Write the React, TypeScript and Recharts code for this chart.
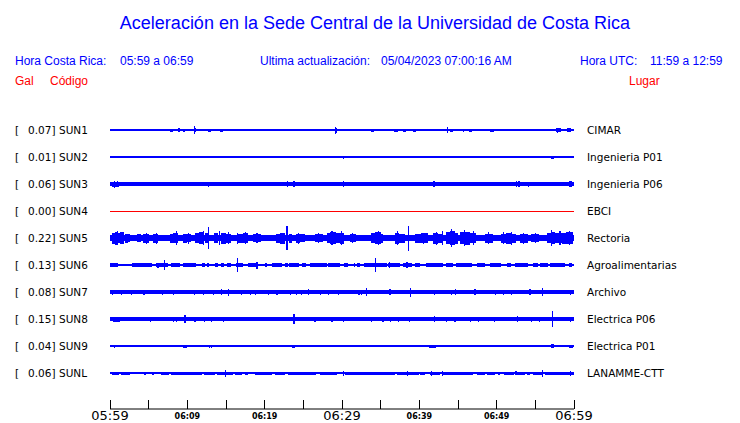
import React from 'react';
import { ComposedChart, XAxis, YAxis, Area, Scatter, ErrorBar } from 'recharts';

const TITLE = 'Aceleración en la Sede Central de la Universidad de Costa Rica';
const CR_TIME = '05:59 a 06:59';
const UPDATED = '05/04/2023 07:00:16 AM';
const UTC_TIME = '11:59 a 12:59';

const CODES = ['SUN1', 'SUN2', 'SUN3', 'SUN4', 'SUN5', 'SUN6', 'SUN7', 'SUN8', 'SUN9', 'SUNL'];
const GAL = ['0.07', '0.01', '0.06', '0.00', '0.22', '0.13', '0.08', '0.15', '0.04', '0.06'];
const PLACES = ['CIMAR', 'Ingenieria P01', 'Ingenieria P06', 'EBCI', 'Rectoria', 'Agroalimentarias', 'Archivo', 'Electrica P06', 'Electrica P01', 'LANAMME-CTT'];
const TRACE_COLORS = ['#0000ff', '#0000ff', '#0000ff', '#ff0000', '#0000ff', '#0000ff', '#0000ff', '#0000ff', '#0000ff', '#0000ff'];

// minutes after 05:59
const TICK_VALUES = [0, 5, 10, 15, 20, 25, 30, 35, 40, 45, 50, 55, 60];
const TICK_LABELS = ['05:59', '', '06:09', '', '06:19', '', '06:29', '', '06:39', '', '06:49', '', '06:59'];
const BIG_TICKS = [0, 30, 60];

// background amplitude of each trace
const BASE_AMP = [0.6, 0.6, 1.7, 0.5, 3.3, 0.6, 1.7, 1.8, 0.6, 0.6];

// [start minute, end minute, amplitude]
const SUN1_SEGS = [[7.8, 8.2, 1.5], [8.8, 9.0, 1.7], [9.4, 9.7, 1.5], [12.7, 13.1, 1.5], [14.2, 14.6, 1.5], [33.7, 34.1, 1.5], [34.5, 34.9, 1.3], [36.7, 37.2, 1.5], [37.9, 38.3, 1.5], [39.2, 39.6, 1.5], [44.0, 44.4, 1.5], [46.4, 46.8, 1.5], [49.1, 49.6, 1.5], [56.3, 56.7, 1.3], [57.7, 58.3, 2], [59.1, 59.6, 2]];
const SUN2_SEGS = [[57.0, 57.4, 1.5]];
const SUN3_SEGS = [[0.3, 1.2, 2.5], [1.6, 2.0, 2.2], [59.4, 59.8, 3]];
const SUN4_SEGS = [];
const SUN5_SEGS = [[0.3, 0.6, 5.5], [0.6, 0.9, 6.5], [0.9, 1.3, 5], [1.3, 1.8, 6], [2.0, 2.3, 4.5], [2.3, 2.6, 4], [3.5, 4.0, 4], [4.3, 5.0, 4.5], [5.6, 6.2, 4.5], [7.8, 8.2, 4.5], [8.2, 8.8, 5], [9.5, 10.0, 4.5], [10.0, 10.5, 4], [11.0, 11.5, 5], [11.5, 12.0, 6], [12.3, 12.8, 5], [13.5, 14.0, 5], [14.4, 15.0, 5.5], [15.0, 15.7, 4.5], [16.6, 17.2, 4.5], [17.2, 17.8, 5], [18.5, 19.5, 4], [21.5, 22.0, 4.5], [22.0, 22.6, 5.5], [23.1, 23.5, 4.5], [24.0, 24.6, 4.5], [24.6, 25.2, 4], [26.5, 27.5, 4], [28.0, 28.5, 5], [28.5, 29.2, 6], [29.2, 29.7, 5], [29.7, 30.2, 5.5], [31.0, 31.8, 4], [33.8, 34.3, 5], [34.3, 35.0, 6], [35.0, 35.3, 4.5], [36.8, 37.4, 5.5], [37.4, 38.2, 4.5], [39.5, 40.2, 4.5], [40.2, 40.8, 5], [41.8, 42.4, 5.5], [42.4, 43.0, 4.5], [43.5, 44.0, 6], [44.0, 44.6, 7], [44.6, 45.0, 5.5], [45.2, 45.8, 6], [45.8, 46.5, 6.5], [46.5, 47.3, 5], [48.5, 49.5, 4.5], [50.5, 51.2, 4.5], [51.2, 51.8, 5.5], [52.0, 52.5, 4.5], [53.0, 54.0, 4.5], [54.5, 55.5, 4], [56.5, 57.0, 5], [57.0, 57.6, 6], [57.6, 58.4, 5], [58.4, 59.0, 5.5], [59.0, 59.9, 6]];
const SUN6_SEGS = [[0, 1.0, 1.6], [1.9, 2.0, 1.4], [2.9, 5.4, 1.6], [6.0, 7.5, 1.6], [7.9, 9.1, 1.6], [9.5, 11.1, 1.6], [11.9, 12.3, 1.6], [12.5, 12.8, 1.6], [13.6, 14.0, 1.6], [14.4, 14.7, 1.6], [15.1, 15.7, 1.6], [16.3, 17.2, 1.6], [17.9, 19.2, 1.6], [20.0, 20.3, 1.6], [20.9, 22.2, 1.6], [22.6, 23.0, 1.6], [23.1, 24.4, 1.6], [24.8, 25.4, 1.6], [25.9, 28.0, 1.6], [28.2, 29.7, 1.6], [30.2, 30.8, 1.6], [31.5, 31.7, 1.6], [32.0, 32.3, 1.6], [32.8, 35.8, 1.6], [36.0, 37.5, 1.6], [37.9, 39.0, 1.6], [39.4, 40.1, 1.6], [40.9, 43.1, 1.6], [43.5, 44.4, 1.6], [44.8, 46.8, 1.6], [47.4, 48.5, 1.6], [49.1, 50.6, 1.6], [51.3, 51.9, 1.6], [52.4, 54.1, 1.6], [54.7, 55.4, 1.6], [55.6, 56.7, 1.6], [56.9, 58.8, 1.6], [59.3, 59.7, 1.6]];
const SUN7_SEGS = [];
const SUN8_SEGS = [[0.4, 1.3, 2.5]];
const SUN9_SEGS = [[9.5, 9.9, 1.5], [23.5, 23.9, 1.5], [41.3, 42.1, 1.5], [43.1, 43.5, 1], [57.0, 57.4, 2], [59.4, 59.9, 1.5]];
const SUNL_SEGS = [[0.3, 1.2, 1.5], [1.4, 1.9, 1.5], [2.0, 2.6, 1.5], [4.4, 4.7, 1.5], [5.4, 5.7, 1.5], [6.6, 7.6, 1.5], [7.9, 11.9, 1.5], [12.2, 13.6, 1.5], [13.8, 15.9, 1.5], [16.2, 17.1, 1.5], [17.5, 17.9, 1.5], [18.8, 20.9, 1.5], [21.3, 22.6, 1.5], [23.0, 26.7, 1.5], [27.2, 29.3, 1.5], [30.4, 36.9, 1.5], [37.1, 39.9, 1.5], [40.1, 40.7, 1.5], [41.4, 42.7, 1.5], [42.9, 47.0, 1.5], [47.4, 48.5, 1.5], [48.7, 49.8, 1.5], [50.2, 50.4, 1.5], [50.9, 52.2, 1.5], [52.4, 53.7, 1.5], [53.9, 54.3, 1.5], [54.7, 55.8, 1.5], [56.2, 60, 1.5]];

// [minute, amplitude]
const SUN1_SPIKES = [[2.7, 1.3], [3.4, 1.3], [4.6, 0.8], [5.7, 0.8], [7.5, 1.3], [10.9, 4], [11.0, 2], [11.3, 1.2], [15.9, 1.3], [18.0, 0.8], [19.8, 0.8], [20.6, 0.8], [21.8, 1.3], [22.6, 0.8], [25.3, 0.8], [27.0, 1.2], [28.4, 1.2], [29.2, 3.5], [29.3, 2.5], [29.8, 1.3], [30.2, 1], [31.3, 1.2], [32.5, 1.2], [40.8, 1], [41.6, 1.2], [42.6, 1.2], [43.6, 3], [45.2, 0.8], [45.7, 1.5], [47.6, 1], [49.7, 1.3], [51.4, 0.8], [53.2, 1.2], [53.9, 0.8], [54.6, 0.8], [55.0, 1.3], [57.9, 2.5]];
const SUN2_SPIKES = [[0.6, 1], [30.2, 1.5], [38.9, 0.8], [59.5, 1]];
const SUN3_SPIKES = [[0.6, 3.5], [1.0, 2.8], [6.8, 2.2], [12.7, 2.5], [21.6, 2], [23.0, 3], [23.8, 3], [30.2, 3], [31.7, 2.2], [41.9, 3], [52.6, 3], [52.9, 3], [54.1, 2.5], [59.6, 3]];
const SUN4_SPIKES = [];
const SUN5_SPIKES = [[1.0, 7], [4.7, 5.5], [6.0, 5.5], [8.6, 7], [10.2, 5.5], [12.1, 7], [12.7, 11], [14.2, 7], [15.3, 6], [16.5, 5.5], [17.5, 6], [19.0, 5], [22.9, 12], [24.4, 5.5], [27.0, 5], [28.7, 7], [29.9, 7], [31.4, 5], [34.7, 7], [37.2, 7], [38.6, 12.5], [40.5, 5.5], [41.0, 5], [42.2, 6.5], [43.0, 7], [44.2, 9], [45.8, 8], [47.0, 7], [48.9, 6], [50.9, 6], [51.9, 6.5], [53.5, 5.5], [55.0, 5], [57.1, 8], [58.2, 7], [59.4, 7]];
const SUN6_SPIKES = [[6.2, 2.5], [7.0, 5.3], [16.5, 7.3], [19.0, 3.5], [34.3, 7], [36.1, 3], [38.4, 3]];
const SUN7_SPIKES = [[0.3, 2.5], [1.5, 2.5], [2.8, 2.5], [4.4, 2.5], [6.8, 2.5], [8.2, 2.5], [9.3, 2], [10.9, 2.5], [12.1, 2.5], [13.4, 2.5], [14.4, 3], [15.3, 3.5], [17.0, 2.5], [18.2, 2.5], [18.8, 2.5], [20.5, 2.5], [21.6, 2.5], [23.3, 2.5], [24.1, 2.5], [24.8, 2.5], [25.7, 3], [27.2, 2.5], [28.3, 2.5], [29.5, 2.5], [32.2, 2.5], [32.5, 2.5], [33.2, 4], [36.2, 3], [38.9, 4.5], [42.0, 2.5], [44.2, 2.5], [44.7, 3], [47.2, 3], [49.8, 2.5], [50.9, 2.5], [51.9, 2.5], [54.3, 3], [55.9, 4], [59.5, 2.5]];
const SUN8_SPIKES = [[5.2, 2.5], [8.2, 2.5], [8.6, 2.5], [9.7, 4], [11.0, 2.5], [12.2, 2.5], [13.1, 2.5], [14.7, 2.5], [20.3, 2], [22.5, 2], [23.8, 5], [26.5, 2.5], [28.7, 2.5], [30.2, 2.5], [33.8, 2.5], [35.3, 2.5], [36.3, 2.5], [37.3, 2.5], [38.7, 2.5], [42.0, 3], [43.5, 2.5], [44.6, 2.5], [46.6, 2.5], [47.6, 2.5], [49.7, 2.5], [52.7, 3], [54.5, 2.5], [55.5, 2.5], [57.2, 8], [59.5, 2.5]];
const SUN9_SPIKES = [[0.6, 1.5], [1.0, 1.3], [8.1, 1], [12.3, 1], [12.9, 1.5], [13.1, 1.5], [14.9, 1.2], [22.6, 1], [24.4, 1], [30.3, 1.2], [37.1, 0.8], [38.4, 1.2], [44.1, 1.2], [45.0, 0.8], [46.9, 0.8], [52.8, 1.2], [57.2, 2]];
const SUNL_SPIKES = [[3.7, 1.3], [14.9, 3.5], [30.2, 2.5], [38.5, 2.5], [41.6, 2.5], [43.0, 2.5], [52.5, 2], [55.9, 3.5], [59.5, 2.5]];

const SEGS = [SUN1_SEGS, SUN2_SEGS, SUN3_SEGS, SUN4_SEGS, SUN5_SEGS, SUN6_SEGS, SUN7_SEGS, SUN8_SEGS, SUN9_SEGS, SUNL_SEGS];
const SPIKES = [SUN1_SPIKES, SUN2_SPIKES, SUN3_SPIKES, SUN4_SPIKES, SUN5_SPIKES, SUN6_SPIKES, SUN7_SPIKES, SUN8_SPIKES, SUN9_SPIKES, SUNL_SPIKES];

const SPACING = 27;
const WIDTH = 740;
const HEIGHT = 423;
const MARGIN = { top: 103, right: 166, bottom: 0, left: 110 };
const AXIS_H = 14;
const FIRST_ROW_Y = 130;

function envelope(base: number, segs: number[][]) {
  const pts = [{ t: 0, a: base }];
  for (const [s, e, a] of segs) {
    pts.push({ t: s, a });
    pts.push({ t: e, a: base });
  }
  pts.push({ t: 60, a: base });
  return pts;
}

function TimeTick(props: any) {
  const { x, y, payload } = props;
  const idx = TICK_VALUES.indexOf(payload.value);
  const label = idx >= 0 ? TICK_LABELS[idx] : '';
  const big = BIG_TICKS.includes(payload.value);
  return (
    <g>
      <line x1={x} x2={x} y1={y - 9} y2={y} stroke="#000" strokeWidth={1} shapeRendering="crispEdges" />
      {label ? (
        <text
          x={x}
          y={big ? y + 11 : y + 9.5}
          textAnchor="middle"
          fontFamily="DejaVu Sans"
          fontSize={big ? 13 : 8}
          fontWeight={big ? 'normal' : 'bold'}
          fill="#000"
        >
          {label}
        </text>
      ) : null}
    </g>
  );
}

const NoShape = () => <g />;

export default function App() {
  const series: any[] = [];
  CODES.forEach((code, i) => {
    const c = (9 - i) * SPACING;
    const env = envelope(BASE_AMP[i], SEGS[i]).map((p) => ({ t: p.t, r: [c - p.a, c + p.a] }));
    series.push(
      <Area
        key={code + '-env'}
        data={env}
        dataKey="r"
        type="stepAfter"
        stroke="none"
        fill={TRACE_COLORS[i]}
        fillOpacity={1}
        isAnimationActive={false}
        dot={false}
        activeDot={false}
      />
    );
    if (SPIKES[i].length) {
      const sp = SPIKES[i].map(([t, a]) => ({ t, y: c, e: a }));
      series.push(
        <Scatter key={code + '-sp'} data={sp} dataKey="y" shape={NoShape} isAnimationActive={false}>
          <ErrorBar dataKey="e" direction="y" width={0} stroke={TRACE_COLORS[i]} strokeWidth={1.2} isAnimationActive={false} />
        </Scatter>
      );
    }
  });

  const txtBlue = { fontFamily: 'Liberation Sans', fontSize: 12, fill: '#0000ff' } as any;
  const txtRed = { fontFamily: 'Liberation Sans', fontSize: 12, fill: '#ff0000' } as any;
  const lbl = { fontFamily: 'DejaVu Sans', fontSize: 10.5, fill: '#000' } as any;

  return (
    <div style={{ position: 'absolute', left: 0, top: 0, width: WIDTH, height: HEIGHT, background: '#fff' }}>
      <style>{'.recharts-area-area, .recharts-errorBar line { shape-rendering: crispEdges; }'}</style>
      <ComposedChart width={WIDTH} height={HEIGHT} margin={MARGIN}>
        <XAxis
          type="number"
          dataKey="t"
          domain={[0, 60]}
          ticks={TICK_VALUES}
          interval={0}
          height={AXIS_H}
          tickSize={0}
          tickMargin={0}
          tickLine={false}
          axisLine={{ stroke: '#000' }}
          tick={<TimeTick />}
          allowDataOverflow
        />
        <YAxis type="number" domain={[-36, 270]} hide width={0} allowDataOverflow />
        {series}
      </ComposedChart>
      <svg width={WIDTH} height={HEIGHT} style={{ position: 'absolute', left: 0, top: 0, pointerEvents: 'none' }}>
        <text x={375} y={29} textAnchor="middle" fontFamily="Liberation Sans" fontSize={18} fill="#0000ff">{TITLE}</text>
        <text x={15} y={65} {...txtBlue}>Hora Costa Rica:</text>
        <text x={120} y={65} {...txtBlue}>{CR_TIME}</text>
        <text x={260} y={65} {...txtBlue}>Ultima actualización:</text>
        <text x={381} y={65} {...txtBlue}>{UPDATED}</text>
        <text x={580} y={65} {...txtBlue}>Hora UTC:</text>
        <text x={650} y={65} {...txtBlue}>{UTC_TIME}</text>
        <text x={15} y={85} {...txtRed}>Gal</text>
        <text x={50} y={85} {...txtRed}>Código</text>
        <text x={629} y={85} {...txtRed}>Lugar</text>
        {CODES.map((code, i) => {
          const y = FIRST_ROW_Y + i * SPACING + 4;
          return (
            <g key={code}>
              <text x={15} y={y} {...lbl}>[</text>
              <text x={28} y={y} {...lbl}>{GAL[i]}]</text>
              <text x={59} y={y} {...lbl}>{code}</text>
              <text x={587} y={y} {...lbl}>{PLACES[i]}</text>
            </g>
          );
        })}
      </svg>
    </div>
  );
}
